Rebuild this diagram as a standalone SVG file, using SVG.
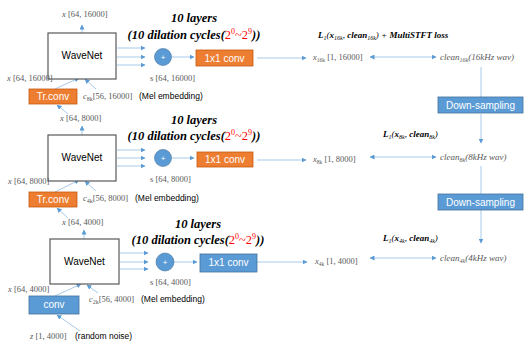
<svg xmlns="http://www.w3.org/2000/svg" width="529" height="344" viewBox="0 0 529 344">
<defs>
<marker id="ah" viewBox="0 0 10 10" refX="9" refY="5" markerWidth="5" markerHeight="5" orient="auto-start-reverse" markerUnits="userSpaceOnUse">
<path d="M0,0 L10,5 L0,10 z" fill="#5B9BD5"/>
</marker>
<style>
.box{fill:#fff;stroke:#595959;stroke-width:1.2}
.org{fill:#ED7D31;stroke:#C55A11;stroke-width:0.8}
.blu{fill:#5B9BD5;stroke:#41719C;stroke-width:0.8}
.cir{fill:#5B9BD5;stroke:#41719C;stroke-width:0.6}
.lbl{font-family:"Liberation Sans",Arial,sans-serif;font-size:10px;fill:#000}
.wl{font-family:"Liberation Sans",Arial,sans-serif;font-size:10px;fill:#fff}
.sm{font-family:"Liberation Serif","Times New Roman",serif;font-size:8.5px;fill:#595959}
.mel{font-family:"Liberation Sans",Arial,sans-serif;font-size:8.5px;fill:#000}
.it{font-style:italic}
.hd{font-family:"Liberation Serif","Times New Roman",serif;font-weight:bold;font-style:italic;font-size:12.5px;fill:#000}
.red{fill:#FF0000;font-style:normal;font-weight:normal}
.loss{font-family:"Liberation Serif","Times New Roman",serif;font-style:italic;font-size:9px;fill:#000}
.cl{font-family:"Liberation Serif","Times New Roman",serif;font-style:italic;font-size:9px;fill:#595959}
.ln{stroke:#9DC3E6;stroke-width:0.9;fill:none}
.la{stroke:#9DC3E6;stroke-width:0.9;fill:none;marker-end:url(#ah)}
.lb{stroke:#9DC3E6;stroke-width:0.9;fill:none;marker-end:url(#ah);marker-start:url(#ah)}
.pl{font-family:"Liberation Sans",Arial,sans-serif;font-size:8px;fill:#fff}
</style>
</defs>

<g id="connectors">
<!-- row 1 -->
<line class="la" x1="82" y1="33" x2="82" y2="25"/>
<line class="la" x1="117" y1="48" x2="145" y2="48"/>
<line class="la" x1="117" y1="57" x2="145" y2="57"/>
<line class="la" x1="117" y1="65" x2="145" y2="65"/>
<line class="la" x1="172" y1="57" x2="194" y2="57"/>
<line class="la" x1="257" y1="58" x2="306" y2="58"/>
<line class="lb" x1="370" y1="57" x2="436" y2="57"/>
<line class="ln" x1="481" y1="67" x2="481" y2="97"/>
<line class="la" x1="55" y1="89" x2="79" y2="78"/>
<line class="la" x1="96" y1="89" x2="85" y2="79"/>
<!-- row 2 -->
<line class="la" x1="68" y1="114" x2="57" y2="105"/>
<line class="la" x1="82" y1="135" x2="82" y2="126"/>
<line class="la" x1="117" y1="150" x2="145" y2="150"/>
<line class="la" x1="117" y1="158" x2="145" y2="158"/>
<line class="la" x1="117" y1="166" x2="145" y2="166"/>
<line class="la" x1="172" y1="158" x2="194" y2="158"/>
<line class="la" x1="257" y1="160" x2="306" y2="160"/>
<line class="lb" x1="370" y1="157" x2="436" y2="157"/>
<line class="la" x1="481" y1="114" x2="481" y2="143"/>
<line class="ln" x1="481" y1="166" x2="481" y2="194"/>
<line class="la" x1="55" y1="192" x2="79" y2="180"/>
<line class="la" x1="96" y1="191" x2="85" y2="181"/>
<!-- row 3 -->
<line class="la" x1="68" y1="218" x2="57" y2="208"/>
<line class="la" x1="84" y1="239" x2="84" y2="230"/>
<line class="la" x1="120" y1="253" x2="148" y2="253"/>
<line class="la" x1="120" y1="262" x2="148" y2="262"/>
<line class="la" x1="120" y1="269" x2="148" y2="269"/>
<line class="la" x1="174" y1="262" x2="197" y2="262"/>
<line class="la" x1="257" y1="262" x2="307" y2="262"/>
<line class="lb" x1="370" y1="258" x2="436" y2="258"/>
<line class="la" x1="481" y1="210" x2="481" y2="243"/>
<line class="la" x1="55" y1="296" x2="81" y2="284"/>
<line class="la" x1="98" y1="293" x2="87" y2="285"/>
<line class="la" x1="80" y1="331" x2="57" y2="315"/>
</g>

<!-- Row 1 -->
<g id="wavenet1"><rect class="box" x="48" y="33" width="68" height="46"/><text class="lbl" x="82" y="59" text-anchor="middle">WaveNet</text></g>
<g id="sum1"><circle class="cir" cx="163" cy="57" r="8.5"/><text class="pl" x="163" y="59.8" text-anchor="middle">+</text></g>
<g id="conv1x1_1"><rect class="org" x="196" y="50" width="57" height="16"/><text class="wl" x="224.5" y="62" text-anchor="middle">1x1 conv</text></g>
<g id="trconv1"><rect class="org" x="29" y="89" width="48" height="15"/><text class="wl" x="53" y="100" text-anchor="middle">Tr.conv</text></g>
<g id="down1"><rect class="blu" x="438" y="97" width="85" height="16"/><text class="wl" x="480.5" y="109" text-anchor="middle">Down-sampling</text></g>
<g id="labels1">
<text class="sm" x="62" y="17"><tspan class="it">x</tspan> [64, 16000]</text>
<text class="hd" x="194" y="22" text-anchor="middle">10 layers</text>
<text class="hd" x="194" y="39" text-anchor="middle" font-size="14">(10 dilation cycles(<tspan class="red">2<tspan font-size="8" dy="-5">0</tspan><tspan dy="5">~2</tspan><tspan font-size="8" dy="-5">9</tspan></tspan><tspan dy="5">))</tspan></text>
<text class="loss" x="318" y="38"><tspan font-weight="bold">L</tspan><tspan font-size="6" dy="2">1</tspan><tspan dy="-2">(</tspan><tspan font-weight="bold">x</tspan><tspan font-size="6" dy="2">16k</tspan><tspan dy="-2">, </tspan><tspan font-weight="bold">clean</tspan><tspan font-size="6" dy="2">16k</tspan><tspan dy="-2">) + </tspan><tspan font-weight="bold">MultiSTFT loss</tspan></text>
<text class="sm" x="313" y="60"><tspan class="it">x</tspan><tspan font-size="5.5" dy="1.5">16k</tspan><tspan dy="-1.5"> [1, 16000]</tspan></text>
<text class="cl" x="440" y="60">clean<tspan font-size="6" dy="2">16k</tspan><tspan dy="-2">(16kHz wav)</tspan></text>
<text class="sm" x="150" y="81">s [64, 16000]</text>
<text class="sm" x="7" y="81"><tspan class="it">x</tspan> [64, 16000]</text>
<text class="sm" x="83" y="99" fill="#000"><tspan class="it">c</tspan><tspan font-size="6" dy="1.5">8k</tspan><tspan dy="-1.5">[56, 16000]</tspan></text>
<text class="mel" x="139" y="99">(Mel embedding)</text>
</g>

<!-- Row 2 -->
<g id="wavenet2"><rect class="box" x="48" y="135" width="68" height="46"/><text class="lbl" x="82" y="161" text-anchor="middle">WaveNet</text></g>
<g id="sum2"><circle class="cir" cx="163" cy="158" r="8.5"/><text class="pl" x="163" y="160.8" text-anchor="middle">+</text></g>
<g id="conv1x1_2"><rect class="org" x="197" y="152" width="56" height="15"/><text class="wl" x="225" y="163" text-anchor="middle">1x1 conv</text></g>
<g id="trconv2"><rect class="org" x="29" y="192" width="48" height="15"/><text class="wl" x="53" y="203" text-anchor="middle">Tr.conv</text></g>
<g id="down2"><rect class="blu" x="438" y="194" width="85" height="16"/><text class="wl" x="480.5" y="206" text-anchor="middle">Down-sampling</text></g>
<g id="labels2">
<text class="sm" x="60" y="121"><tspan class="it">x</tspan> [64, 8000]</text>
<text class="hd" x="194" y="124" text-anchor="middle">10 layers</text>
<text class="hd" x="194" y="140" text-anchor="middle" font-size="14">(10 dilation cycles(<tspan class="red">2<tspan font-size="8" dy="-5">0</tspan><tspan dy="5">~2</tspan><tspan font-size="8" dy="-5">9</tspan></tspan><tspan dy="5">))</tspan></text>
<text class="loss" x="383" y="137"><tspan font-weight="bold">L</tspan><tspan font-size="6" dy="2">1</tspan><tspan dy="-2">(</tspan><tspan font-weight="bold">x</tspan><tspan font-size="6" dy="2">8k</tspan><tspan dy="-2">, </tspan><tspan font-weight="bold">clean</tspan><tspan font-size="6" dy="2">8k</tspan><tspan dy="-2">)</tspan></text>
<text class="sm" x="313" y="162"><tspan class="it">x</tspan><tspan font-size="5.5" dy="1.5">8k</tspan><tspan dy="-1.5"> [1, 8000]</tspan></text>
<text class="cl" x="440" y="160">clean<tspan font-size="6" dy="2">8k</tspan><tspan dy="-2">(8kHz wav)</tspan></text>
<text class="sm" x="150" y="182">s [64, 8000]</text>
<text class="sm" x="8" y="184"><tspan class="it">x</tspan> [64, 8000]</text>
<text class="sm" x="83" y="201" fill="#000"><tspan class="it">c</tspan><tspan font-size="6" dy="1.5">4k</tspan><tspan dy="-1.5">[56, 8000]</tspan></text>
<text class="mel" x="135" y="201">(Mel embedding)</text>
</g>

<!-- Row 3 -->
<g id="wavenet3"><rect class="box" x="50" y="239" width="69" height="45"/><text class="lbl" x="84.5" y="265" text-anchor="middle">WaveNet</text></g>
<g id="sum3"><circle class="cir" cx="165" cy="262" r="9"/><text class="pl" x="165" y="264.8" text-anchor="middle">+</text></g>
<g id="conv1x1_3"><rect class="blu" x="200" y="254" width="57" height="18"/><text class="wl" x="228.5" y="266" text-anchor="middle">1x1 conv</text></g>
<g id="conv3"><rect class="blu" x="29" y="296" width="50" height="18"/><text class="wl" x="54" y="308" text-anchor="middle">conv</text></g>
<g id="labels3">
<text class="sm" x="62" y="225"><tspan class="it">x</tspan> [64, 4000]</text>
<text class="hd" x="198" y="228" text-anchor="middle">10 layers</text>
<text class="hd" x="198" y="244" text-anchor="middle" font-size="14">(10 dilation cycles(<tspan class="red">2<tspan font-size="8" dy="-5">0</tspan><tspan dy="5">~2</tspan><tspan font-size="8" dy="-5">9</tspan></tspan><tspan dy="5">))</tspan></text>
<text class="loss" x="383" y="241"><tspan font-weight="bold">L</tspan><tspan font-size="6" dy="2">1</tspan><tspan dy="-2">(</tspan><tspan font-weight="bold">x</tspan><tspan font-size="6" dy="2">4k</tspan><tspan dy="-2">, </tspan><tspan font-weight="bold">clean</tspan><tspan font-size="6" dy="2">4k</tspan><tspan dy="-2">)</tspan></text>
<text class="sm" x="315" y="264"><tspan class="it">x</tspan><tspan font-size="5.5" dy="1.5">4k</tspan><tspan dy="-1.5"> [1, 4000]</tspan></text>
<text class="cl" x="440" y="261">clean<tspan font-size="6" dy="2">4k</tspan><tspan dy="-2">(4kHz wav)</tspan></text>
<text class="sm" x="150" y="285">s [64, 4000]</text>
<text class="sm" x="8" y="292"><tspan class="it">x</tspan> [64, 4000]</text>
<text class="sm" x="89" y="302" fill="#000"><tspan class="it">c</tspan><tspan font-size="6" dy="1.5">2k</tspan><tspan dy="-1.5">[56, 4000]</tspan></text>
<text class="mel" x="141" y="302">(Mel embedding)</text>
<text class="sm" x="30" y="339" fill="#000"><tspan class="it">z</tspan> [1, 4000]</text>
<text class="mel" x="75" y="339">(random noise)</text>
</g>
</svg>
